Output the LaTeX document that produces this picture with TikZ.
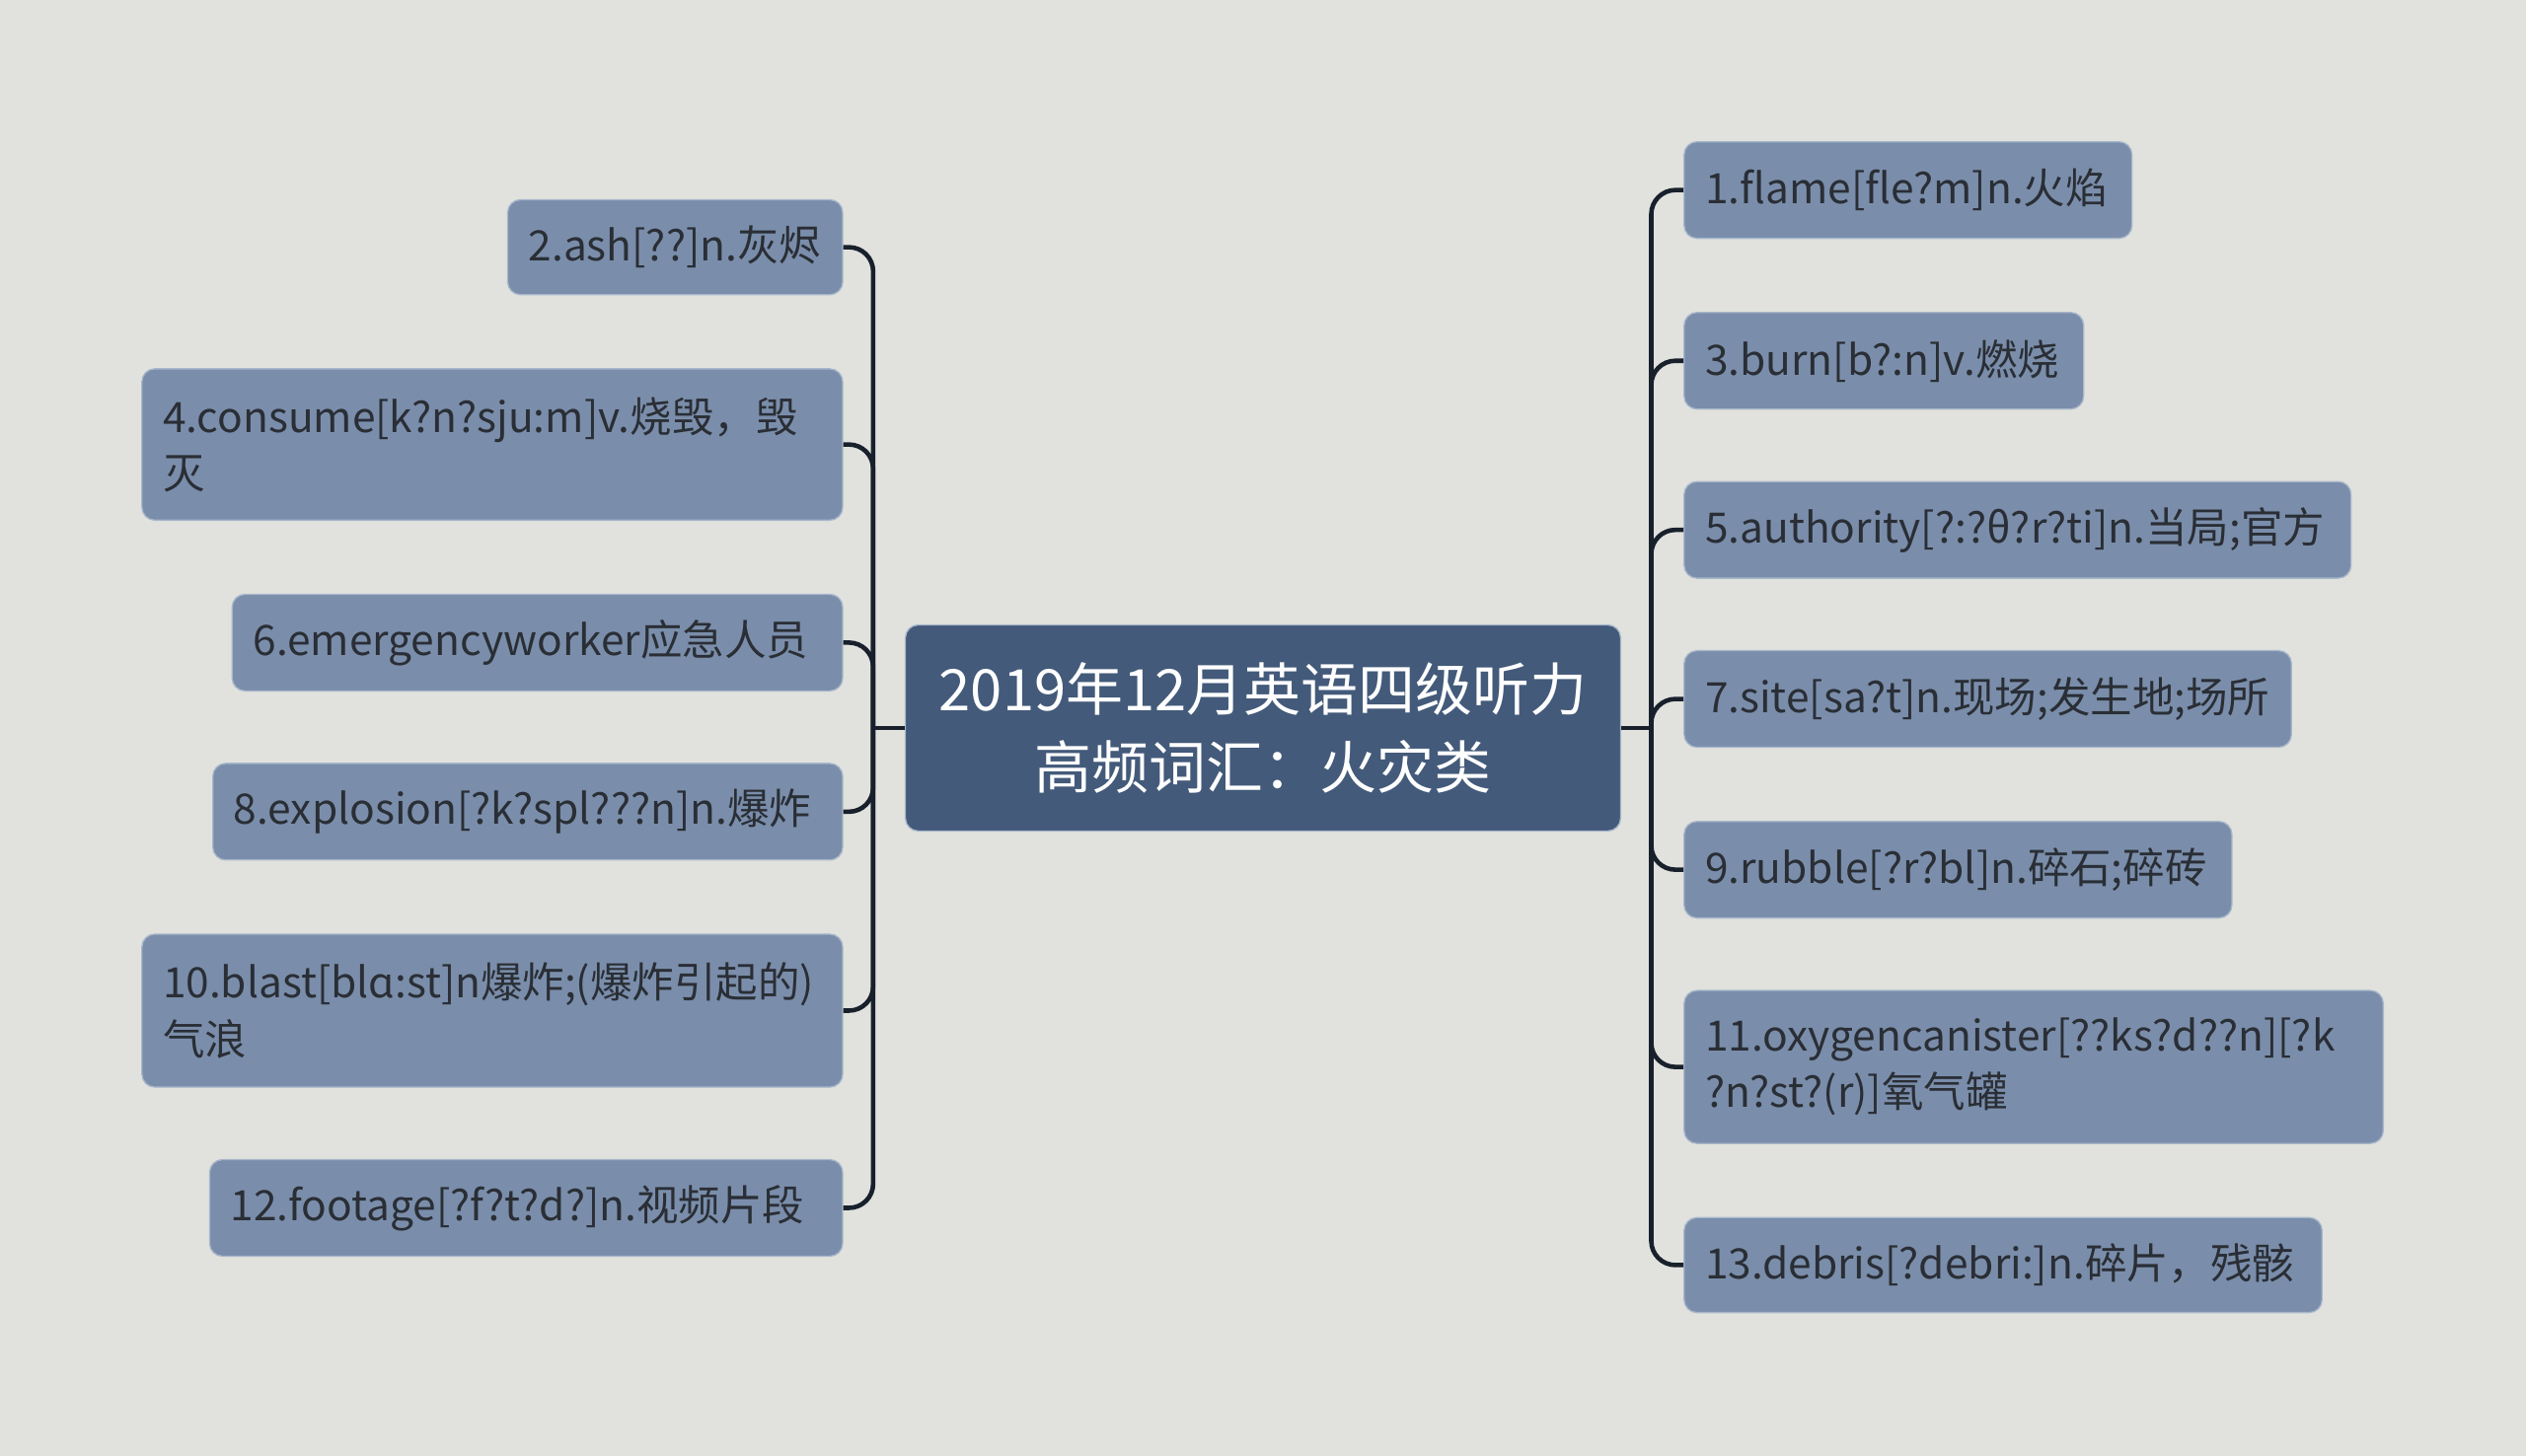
\documentclass[tikz,border=0pt]{standalone}
\usepackage{fontspec}
\setmainfont{Noto Sans CJK SC}
\definecolor{paper}{HTML}{E1E2DD}
\definecolor{leaffill}{HTML}{7A8EAB}
\definecolor{leafrim}{HTML}{A8B7CB}
\definecolor{leaftext}{HTML}{2A2E35}
\definecolor{rootfill}{HTML}{435A7A}
\definecolor{linkcol}{HTML}{18202C}
\tikzset{
  leaf/.style={fill=leaffill, draw=leafrim, line width=0.8pt, rounded corners=8pt,
    text=leaftext, font=\fontsize{26}{35}\selectfont, inner xsep=13pt, inner ysep=0pt,
    align=left},
  root/.style={fill=rootfill, draw=leafrim, line width=0.8pt, rounded corners=8pt,
    text=white, font=\fontsize{35.5}{48}\selectfont, align=center,
    minimum width=444pt, minimum height=128pt},
  link/.style={draw=linkcol, line width=2.8pt},
}
\begin{document}
\begin{tikzpicture}[x=1pt,y=-1pt]
\fill[paper] (0,0) rectangle (1568,904);
% centre
\node[root] (c) at (784,452) {2019年12月英语四级听力\\高频词汇：火灾类};
% left side
\node[leaf, anchor=east, text width=182pt, minimum height=59pt] (n2) at (523.5,153.5) {2.ash[??]n.灰烬};
\node[leaf, anchor=east, text width=409pt, minimum height=94pt] (n4) at (523.5,276) {4.consume[k?n?sju:m]v.烧毁，毁\\灭};
\node[leaf, anchor=east, text width=353pt, minimum height=60pt] (n6) at (523.5,399) {6.emergencyworker应急人员};
\node[leaf, anchor=east, text width=365pt, minimum height=60pt] (n8) at (523.5,504) {8.explosion[?k?spl???n]n.爆炸};
\node[leaf, anchor=east, text width=409pt, minimum height=95pt] (n10) at (523.5,627.5) {10.blast[blɑ:st]n爆炸;(爆炸引起的)\\气浪};
\node[leaf, anchor=east, text width=367pt, minimum height=60pt] (n12) at (523.5,750) {12.footage[?f?t?d?]n.视频片段};
% right side
\node[leaf, anchor=west, text width=252pt, minimum height=60pt] (n1) at (1045,118) {1.flame[fle?m]n.火焰};
\node[leaf, anchor=west, text width=222pt, minimum height=60pt] (n3) at (1045,224) {3.burn[b?:n]v.燃烧};
\node[leaf, anchor=west, text width=388pt, minimum height=60pt] (n5) at (1045,329) {5.authority[?:?θ?r?ti]n.当局;官方};
\node[leaf, anchor=west, text width=351pt, minimum height=60pt] (n7) at (1045,434) {7.site[sa?t]n.现场;发生地;场所};
\node[leaf, anchor=west, text width=314pt, minimum height=60pt] (n9) at (1045,540) {9.rubble[?r?bl]n.碎石;碎砖};
\node[leaf, anchor=west, text width=408pt, minimum height=95pt] (n11) at (1045,662.5) {11.oxygencanister[??ks?d??n][?k\\?n?st?(r)]氧气罐};
\node[leaf, anchor=west, text width=370pt, minimum height=59pt] (n13) at (1045,785.5) {13.debris[?debri:]n.碎片，残骸};
% connectors
\coordinate (lt) at (542,452);
\coordinate (rt) at (1025,452);
\draw[link] (c.west) -- (lt);
\draw[link] (c.east) -- (rt);
\foreach \n in {n2,n4,n6,n8,n10,n12}
  \draw[link, rounded corners=15pt] (lt) |- (\n.east);
\foreach \n in {n1,n3,n5,n7,n9,n11,n13}
  \draw[link, rounded corners=15pt] (rt) |- (\n.west);
\end{tikzpicture}
\end{document}
